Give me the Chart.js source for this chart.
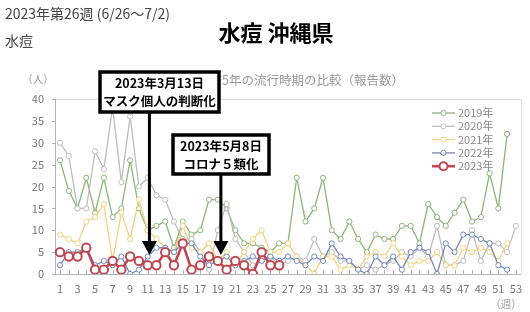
<!DOCTYPE html>
<html>
<head>
<meta charset="utf-8">
<script src="https://cdn.jsdelivr.net/npm/chart.js@4.4.0/dist/chart.umd.min.js"></script>
<style>
  html, body { margin: 0; padding: 0; background: #fff; }
  #wrap { position: relative; width: 530px; height: 312px; }
</style>
</head>
<body>
<div id="wrap"><canvas id="chart" width="530" height="312"></canvas></div>
<script>
// weeks 1..53
const weeks = [];
for (let i = 1; i <= 53; i++) weeks.push(String(i));

// weekly reports
const y2019 = [26, 19, 15, 22, 14, 22, 13, 15, 26, 15, 10, 11, 12, 6, 12, 9, 10, 17, 17, 15, 10, 7, 7, 6, 5, 7, 7, 22, 12, 15, 22, 10, 8, 12, 8, 5, 9, 8, 8, 11, 11, 7, 16, 13, 11, 14, 17, 12, 13, 23, 15, 32];
const y2020 = [30, 27, 15, 15, 28, 24, 38, 21, 36, 20, 22, 18, 17, 12, 8, 8, 5, 1, 10, 16, 8, 5, 2, 3, 4, 2, 3, 4, 3, 8, 4, 5, 3, 3, 1, 2, 1, 2, 3, 5, 4, 6, 4, 11, 2, 2, 3, 10, 3, 7, 7, 5, 11];
const y2021 = [9, 8, 7, 12, 13, 16, 3, 14, 8, 17, 10, 8, 6, 5, 11, 6, 5, 7, 3, 5, 2, 5, 8, 10, 5, 5, 7, 4, 2, 0, 4, 4, 1, 2, 1, 4, 5, 4, 7, 4, 2, 3, 3, 5, 2, 2, 6, 5, 6, 5, 3, 7];
const y2022 = [2, 5, 5, 6, 2, 3, 2, 4, 0, 1, 4, 6, 6, 5, 7, 7, 4, 2, 3, 4, 2, 3, 4, 3, 4, 3, 4, 3, 2, 4, 3, 7, 4, 3, 1, 0, 4, 2, 4, 1, 5, 6, 5, 0, 7, 5, 9, 9, 8, 7, 2, 1];
const y2023 = [5, 4, 4, 6, 1, 1, 3, 1, 4, 3, 2, 2, 5, 2, 7, 1, 2, 4, 3, 1, 3, 2, 0, 5, 2, 2];

const seriesNames = ['2019年', '2020年', '2021年', '2022年', '2023年'];
const seriesColors = ['#8cb57a', '#bdbdbd', '#f2d37e', '#7488bd', '#c0474f'];
const yTicks = [0, 5, 10, 15, 20, 25, 30, 35, 40];

const FONT = '"Noto Sans CJK JP", "Noto Sans", sans-serif';

function ds(label, data, color, order, big) {
    return {
        label: label,
        data: data,
        borderColor: color,
        backgroundColor: '#fff',
        pointBackgroundColor: '#fff',
        pointBorderColor: color,
        borderWidth: big ? 2.6 : 1.3,
        pointBorderWidth: big ? 2 : 1,
        pointRadius: big ? 4.2 : 2.6,
        tension: 0,
        order: order
    };
}

// frame, inner ticks, texts, legend and the two callouts
const decor = {
    id: 'decor',
    beforeDatasetsDraw(chart) {
        const ctx = chart.ctx;
        const a = chart.chartArea;
        const L = a.left - 5, R = a.right + 5, T = a.top, B = a.bottom;
        ctx.save();
        ctx.strokeStyle = '#dcdcdc';
        ctx.lineWidth = 1;
        ctx.beginPath();
        ctx.moveTo(L, T + 0.5); ctx.lineTo(R + 0.5, T + 0.5); ctx.lineTo(R + 0.5, B);
        ctx.stroke();
        ctx.strokeStyle = '#b3b3b3';
        ctx.beginPath();
        ctx.moveTo(L + 0.5, T); ctx.lineTo(L + 0.5, B + 0.5); ctx.lineTo(R, B + 0.5);
        ctx.stroke();
        // week ticks
        const xs = chart.scales.x;
        ctx.beginPath();
        for (let i = 0; i < weeks.length; i++) {
            const px = Math.round(xs.getPixelForValue(i)) + 0.5;
            ctx.moveTo(px, B); ctx.lineTo(px, B - 4);
        }
        // value ticks
        const ys = chart.scales.y;
        yTicks.forEach(v => {
            const py = Math.round(ys.getPixelForValue(v)) + 0.5;
            ctx.moveTo(L - 3, py); ctx.lineTo(L, py);
        });
        ctx.stroke();
        ctx.restore();
    },
    afterDraw(chart) {
        const ctx = chart.ctx;
        const a = chart.chartArea;
        const xs = chart.scales.x;
        ctx.save();
        ctx.textBaseline = 'middle';

        // headers
        ctx.fillStyle = '#444';
        ctx.font = '14px ' + FONT;
        ctx.textAlign = 'left';
        ctx.fillText('2023年第26週 (6/26〜7/2)', 5, 14);
        ctx.fillText('水痘', 5, 41);
        ctx.fillStyle = '#000';
        ctx.font = 'bold 22px ' + FONT;
        ctx.textAlign = 'center';
        ctx.fillText('水痘 沖縄県', 276, 33);

        // chart caption and units
        ctx.fillStyle = '#9a9a9a';
        ctx.font = '12.5px ' + FONT;
        ctx.textAlign = 'left';
        ctx.fillText('過去5年の流行時期の比較（報告数）', 197, 80);
        ctx.font = '10.5px ' + FONT;
        ctx.textAlign = 'center';
        ctx.fillText('（人）', 38, 79);
        ctx.fillText('（週）', 506, 304);

        // legend
        const lx = 432, ly0 = 113, step = 13.3;
        seriesNames.forEach((name, i) => {
            const y = ly0 + i * step;
            const big = i === 4;
            ctx.strokeStyle = seriesColors[i];
            ctx.lineWidth = big ? 2.6 : 1.3;
            ctx.beginPath();
            ctx.moveTo(lx, y); ctx.lineTo(lx + 23, y);
            ctx.stroke();
            ctx.fillStyle = '#fff';
            ctx.lineWidth = big ? 2 : 1;
            ctx.beginPath();
            ctx.arc(lx + 11.5, y, big ? 4 : 2.6, 0, Math.PI * 2);
            ctx.fill(); ctx.stroke();
            ctx.fillStyle = '#888';
            ctx.font = '11px ' + FONT;
            ctx.textAlign = 'left';
            ctx.fillText(name, lx + 26, y);
        });

        // callouts
        const tipY = 255;
        function callout(x0, y0, x1, y1, l1, l2, ax) {
            ctx.fillStyle = '#000';
            ctx.fillRect(ax - 1.5, y1, 3, tipY - 12 - y1);
            ctx.beginPath();
            ctx.moveTo(ax - 7.5, tipY - 14);
            ctx.lineTo(ax + 7.5, tipY - 14);
            ctx.lineTo(ax, tipY);
            ctx.closePath();
            ctx.fill();
            ctx.fillStyle = '#fff';
            ctx.fillRect(x0, y0, x1 - x0, y1 - y0);
            ctx.strokeStyle = '#000';
            ctx.lineWidth = 3.5;
            ctx.strokeRect(x0, y0, x1 - x0, y1 - y0);
            ctx.fillStyle = '#000';
            ctx.font = 'bold 12.5px ' + FONT;
            ctx.textAlign = 'center';
            const cx = (x0 + x1) / 2, h = y1 - y0;
            ctx.fillText(l1, cx, y0 + h * 0.29);
            ctx.fillText(l2, cx, y0 + h * 0.74);
        }
        callout(100, 72, 219, 112, '2023年3月13日', 'マスク個人の判断化', xs.getPixelForValue(10.2));
        callout(173, 135, 269, 174, '2023年5月8日', 'コロナ５類化', xs.getPixelForValue(18.35));
        ctx.restore();
    }
};

const ctx = document.getElementById('chart').getContext('2d');
new Chart(ctx, {
    type: 'line',
    data: {
        labels: weeks,
        datasets: [
            ds(seriesNames[0], y2019, seriesColors[0], 4, false),
            ds(seriesNames[1], y2020, seriesColors[1], 3, false),
            ds(seriesNames[2], y2021, seriesColors[2], 2, false),
            ds(seriesNames[3], y2022, seriesColors[3], 1, false),
            ds(seriesNames[4], y2023, seriesColors[4], 0, true)
        ]
    },
    options: {
        responsive: false,
        animation: false,
        layout: { padding: { top: 99, right: 13, left: 0, bottom: 0 } },
        plugins: {
            legend: { display: false },
            title: { display: false },
            tooltip: { enabled: false }
        },
        scales: {
            x: {
                offset: false,
                grid: { display: false, drawTicks: false },
                border: { display: false },
                afterFit(s) { s.height = 38; },
                ticks: {
                    autoSkip: false,
                    maxRotation: 0,
                    padding: 8,
                    color: '#777',
                    font: { size: 11, family: FONT },
                    callback: (v, i) => (i % 2 === 0 ? weeks[i] : '')
                }
            },
            y: {
                min: 0,
                max: 40,
                grid: { display: false, drawTicks: false },
                border: { display: false },
                afterFit(s) { s.width = 60; },
                ticks: {
                    stepSize: 5,
                    padding: 16,
                    color: '#777',
                    font: { size: 11, family: FONT }
                }
            }
        }
    },
    plugins: [decor]
});
</script>
</body>
</html>
